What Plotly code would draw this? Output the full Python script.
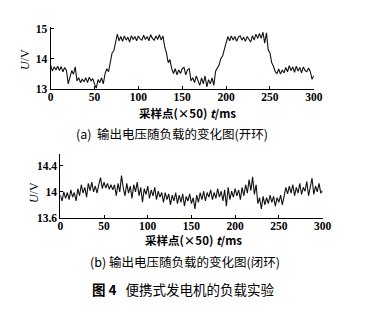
import plotly.graph_objects as go

t = list(range(0, 301, 2))

u_open = [
    13.8, 13.6, 13.74, 13.64, 13.76, 13.62, 13.75, 13.58, 13.72, 13.62,  # 0-18
    13.18, 13.45, 13.62, 13.5, 13.74, 13.28, 13.38, 13.22, 13.34, 13.25, # 20-38
    13.38, 13.22, 13.4, 13.28, 13.35, 13.18, 13.04, 13.32, 13.22, 13.38, # 40-58
    13.18, 13.52, 13.68, 13.58, 13.88, 14.2, 14.27, 14.55, 14.82, 14.6,  # 60-78
    14.74, 14.58, 14.76, 14.62, 14.72, 14.56, 14.77, 14.64, 14.74, 14.6, # 80-98
    14.76, 14.66, 14.62, 14.78, 14.64, 14.74, 14.6, 14.8, 14.68, 14.62,  # 100-118
    14.76, 14.64, 14.8, 14.62, 14.76, 14.4, 14.2, 13.88, 13.98, 13.68,   # 120-138
    13.52, 13.68, 13.48, 13.64, 13.52, 13.68, 13.72, 13.48, 13.64, 13.68,# 140-158
    13.28, 13.38, 13.22, 13.44, 13.28, 13.13, 13.38, 13.18, 13.44, 13.08,# 160-178
    13.32, 13.18, 13.38, 13.13, 13.6, 13.72, 13.8, 14.02, 14.1, 14.32,   # 180-198
    14.56, 14.74, 14.6, 14.76, 14.62, 14.74, 14.58, 14.72, 14.76, 14.62, # 200-218
    14.72, 14.58, 14.74, 14.66, 14.56, 14.77, 14.62, 14.82, 14.68, 14.84,# 220-238
    14.68, 14.88, 14.52, 14.86, 14.3, 14.2, 13.88, 13.76, 13.58, 13.52,  # 240-258
    13.67, 13.5, 13.64, 13.54, 13.72, 13.58, 13.78, 13.62, 13.74, 13.56, # 260-278
    13.76, 13.6, 13.72, 13.54, 13.74, 13.62, 13.58, 13.7, 13.58, 13.33,  # 280-298
    13.45,                                                               # 300
]

u_closed = [
    13.95, 13.86, 14.0, 13.9, 13.99, 13.88, 14.03, 13.92, 13.99, 13.86, # 0-18
    14.05, 13.94, 14.11, 13.98, 14.07, 13.92, 14.13, 14.02, 14.15, 14.0, # 20-38
    14.09, 13.98, 14.11, 14.22, 14.05, 14.15, 14.06, 14.13, 14.04, 14.11,# 40-58
    14.03, 14.11, 13.94, 14.13, 14.0, 14.25, 14.06, 13.94, 14.13, 13.98, # 60-78
    14.09, 13.9, 14.11, 14.0, 14.15, 13.94, 14.07, 13.84, 14.05, 13.96,  # 80-98
    14.09, 13.9, 14.03, 13.94, 14.07, 13.88, 14.01, 13.92, 13.99, 13.84, # 100-118
    13.99, 13.88, 13.97, 13.8, 13.95, 13.86, 13.99, 13.82, 13.95, 13.84, # 120-138
    13.97, 13.78, 13.93, 13.86, 13.97, 13.82, 13.91, 13.74, 13.95, 13.84,# 140-158
    13.99, 13.88, 14.01, 13.86, 13.99, 13.92, 14.03, 13.88, 13.99, 13.9, # 160-178
    14.05, 13.92, 14.01, 13.86, 14.03, 13.78, 14.07, 13.88, 14.01, 13.92,# 180-198
    14.05, 13.94, 14.03, 13.88, 14.07, 13.94, 14.11, 13.98, 14.19, 14.02,# 200-218
    14.23, 13.96, 14.11, 13.82, 13.91, 13.74, 13.93, 13.8, 13.91, 13.82, # 220-238
    13.95, 13.84, 13.93, 13.78, 13.91, 13.84, 13.95, 13.8, 13.93, 14.07, # 240-258
    13.97, 14.09, 13.98, 14.11, 13.94, 14.07, 13.98, 14.13, 13.96, 14.07,# 260-278
    14.01, 14.16, 13.94, 14.11, 14.21, 13.96, 14.09, 14.0, 14.13, 13.98, # 280-298
    14.02,                                                               # 300
]

x_ticks = [0, 50, 100, 150, 200, 250, 300]
ya_ticks = [13, 14, 15]
yb_ticks = [13.6, 14.0, 14.4]
yb_labels = ["13.6", "14", "14.4"]

# the page body adds an 8px margin; lay out in window pixels and compensate
OFF = 8
W, H = 377 - OFF, 309 - OFF
def fx(px): return (px - OFF) / W
def fy(py): return 1 - (py - OFF) / H

tick_font = dict(family="Liberation Serif, Times New Roman, serif", size=11.5,
                 color="black", weight="bold")

fig = go.Figure()
fig.add_trace(go.Scatter(x=t, y=u_open, mode="lines", line=dict(color="#111", width=1.1),
                         xaxis="x", yaxis="y", showlegend=False))
fig.add_trace(go.Scatter(x=t, y=u_closed, mode="lines", line=dict(color="#111", width=1.1),
                         xaxis="x2", yaxis="y2", showlegend=False))

axis_common = dict(showline=True, linecolor="black", linewidth=1, showgrid=False,
                   zeroline=False, ticks="inside", ticklen=3, tickcolor="black",
                   tickfont=tick_font)

fig.update_layout(
    width=W, height=H, margin=dict(l=0, r=0, t=0, b=0),
    paper_bgcolor="white", plot_bgcolor="white",
    xaxis=dict(domain=[fx(49), fx(321)], range=[0, 300], tickvals=x_ticks,
               anchor="y", ticklabelstandoff=-3, **axis_common),
    yaxis=dict(domain=[fy(88), fy(23)], range=[13, 15.07], tickvals=ya_ticks,
               anchor="x", ticklabelstandoff=0, **axis_common),
    xaxis2=dict(domain=[fx(59), fx(330)], range=[0, 300], tickvals=x_ticks,
                anchor="y2", ticklabelstandoff=-3, **axis_common),
    yaxis2=dict(domain=[fy(221), fy(155)], range=[13.6, 14.58], tickvals=yb_ticks,
                ticktext=yb_labels, anchor="x2", ticklabelstandoff=0, **axis_common),
)

cjk = "Noto Sans CJK SC"
def txt(x, y, s, size=12, family=cjk, angle=0):
    fig.add_annotation(x=fx(x), y=fy(y), xref="paper", yref="paper", text=s,
                       showarrow=False, font=dict(family=family, size=size, color="black"),
                       textangle=angle, xanchor="center", yanchor="middle")

txt(190, 112, "<b>采样点(×50) <i>t</i>/ms</b>", size=11.5)
txt(174, 134, "(a)  输出电压随负载的变化图(开环)", size=12.5)
txt(23, 57, "<i>U</i>/V", size=12, family="Liberation Serif, serif", angle=-90)

txt(197, 244, "<b>采样点(×50) <i>t</i>/ms</b>", size=11.5)
txt(188, 266, "(b) 输出电压随负载的变化图(闭环)", size=12.5)
txt(32, 195, "<i>U</i>/V", size=12, family="Liberation Serif, serif", angle=-90)

txt(186, 295, "<b>图 4</b>   便携式发电机的负载实验", size=13.5)

fig.write_html("out.html")
